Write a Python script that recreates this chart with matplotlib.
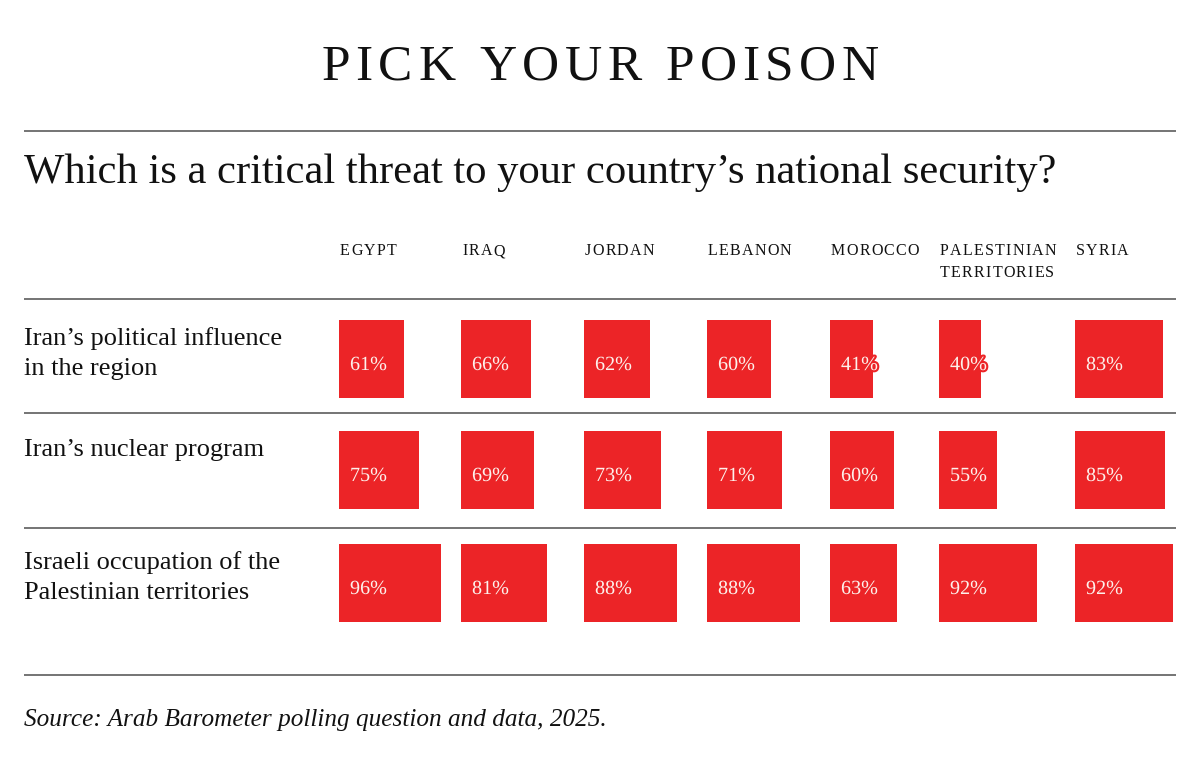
import matplotlib
matplotlib.use("Agg")
import matplotlib.pyplot as plt
import matplotlib.patheffects as pe
from matplotlib import font_manager, ft2font

# data
countries = ["EGYPT", "IRAQ", "JORDAN", "LEBANON", "MOROCCO", "PALESTINIAN\nTERRITORIES", "SYRIA"]
threats = ["Iran’s political influence\nin the region",
           "Iran’s nuclear program",
           "Israeli occupation of the\nPalestinian territories"]
political = [61, 66, 62, 60, 41, 40, 83]
nuclear = [75, 69, 73, 71, 60, 55, 85]
occupation = [96, 81, 88, 88, 63, 92, 92]
rows = [political, nuclear, occupation]

title = "PICK YOUR POISON"
subtitle = "Which is a critical threat to your country’s national security?"
source = "Source: Arab Barometer polling question and data, 2025."

# layout (pixel coordinates, y down)
SERIF = "Liberation Serif"
RED = "#ec2427"
CREAM = "#fdf1ec"
INK = "#111111"
RULE = "#5c5c5c"
col_x = [339, 461, 584, 707, 830, 939, 1075]
row_top = [320, 431, 544]
bar_h = 78
px_per_pct = 1.06

fig = plt.figure(figsize=(12, 7.6), dpi=100)
ax = fig.add_axes([0, 0, 1, 1])
ax.set_xlim(0, 1200)
ax.set_ylim(760, 0)
ax.axis("off")

font_path = font_manager.findfont(font_manager.FontProperties(family=SERIF))


def spaced(x, y, s, size, track, ha="left", **kw):
    # matplotlib has no letter-spacing, so place glyphs one by one
    font = ft2font.FT2Font(font_path, hinting_factor=1)
    font.set_size(size, 100)
    adv = [font.load_char(ord(c)).linearHoriAdvance / 65536 for c in s]
    total = sum(adv) + track * (len(s) - 1)
    if ha == "center":
        x -= total / 2
    for c, a in zip(s, adv):
        ax.text(x, y, c, fontsize=size, family=SERIF, va="baseline", ha="left", **kw)
        x += a + track


spaced(600, 80, title, 37, 5.8, ha="center", color=INK)
ax.text(24, 183, subtitle, fontsize=30.7, family=SERIF, va="baseline", color=INK)

for x, name in zip(col_x, countries):
    for i, line in enumerate(name.split("\n")):
        spaced(x + 1, 255 + i * 22, line, 11.5, 1.2, color=INK)

ax.hlines([131, 299, 413, 528, 675], 24, 1176, color=RULE, lw=1.2)

for top, label, vals in zip(row_top, threats, rows):
    center = top + bar_h / 2
    for i, line in enumerate(label.split("\n")):
        ax.text(24, top + 25 + i * 30, line, fontsize=19, family=SERIF,
                va="baseline", color=INK)
    ax.barh([center] * len(vals), [v * px_per_pct for v in vals], left=col_x,
            height=bar_h, color=RED, edgecolor="none")
    for x, v in zip(col_x, vals):
        ax.text(x + 11, center + 11, f"{v}%", fontsize=14.5, family=SERIF,
                va="baseline", color=CREAM,
                path_effects=[pe.withStroke(linewidth=3, foreground=RED)])

ax.text(24, 726, source, fontsize=18.2, family=SERIF, style="italic",
        va="baseline", color=INK)

fig.savefig("out.png", dpi=100, facecolor="white")
